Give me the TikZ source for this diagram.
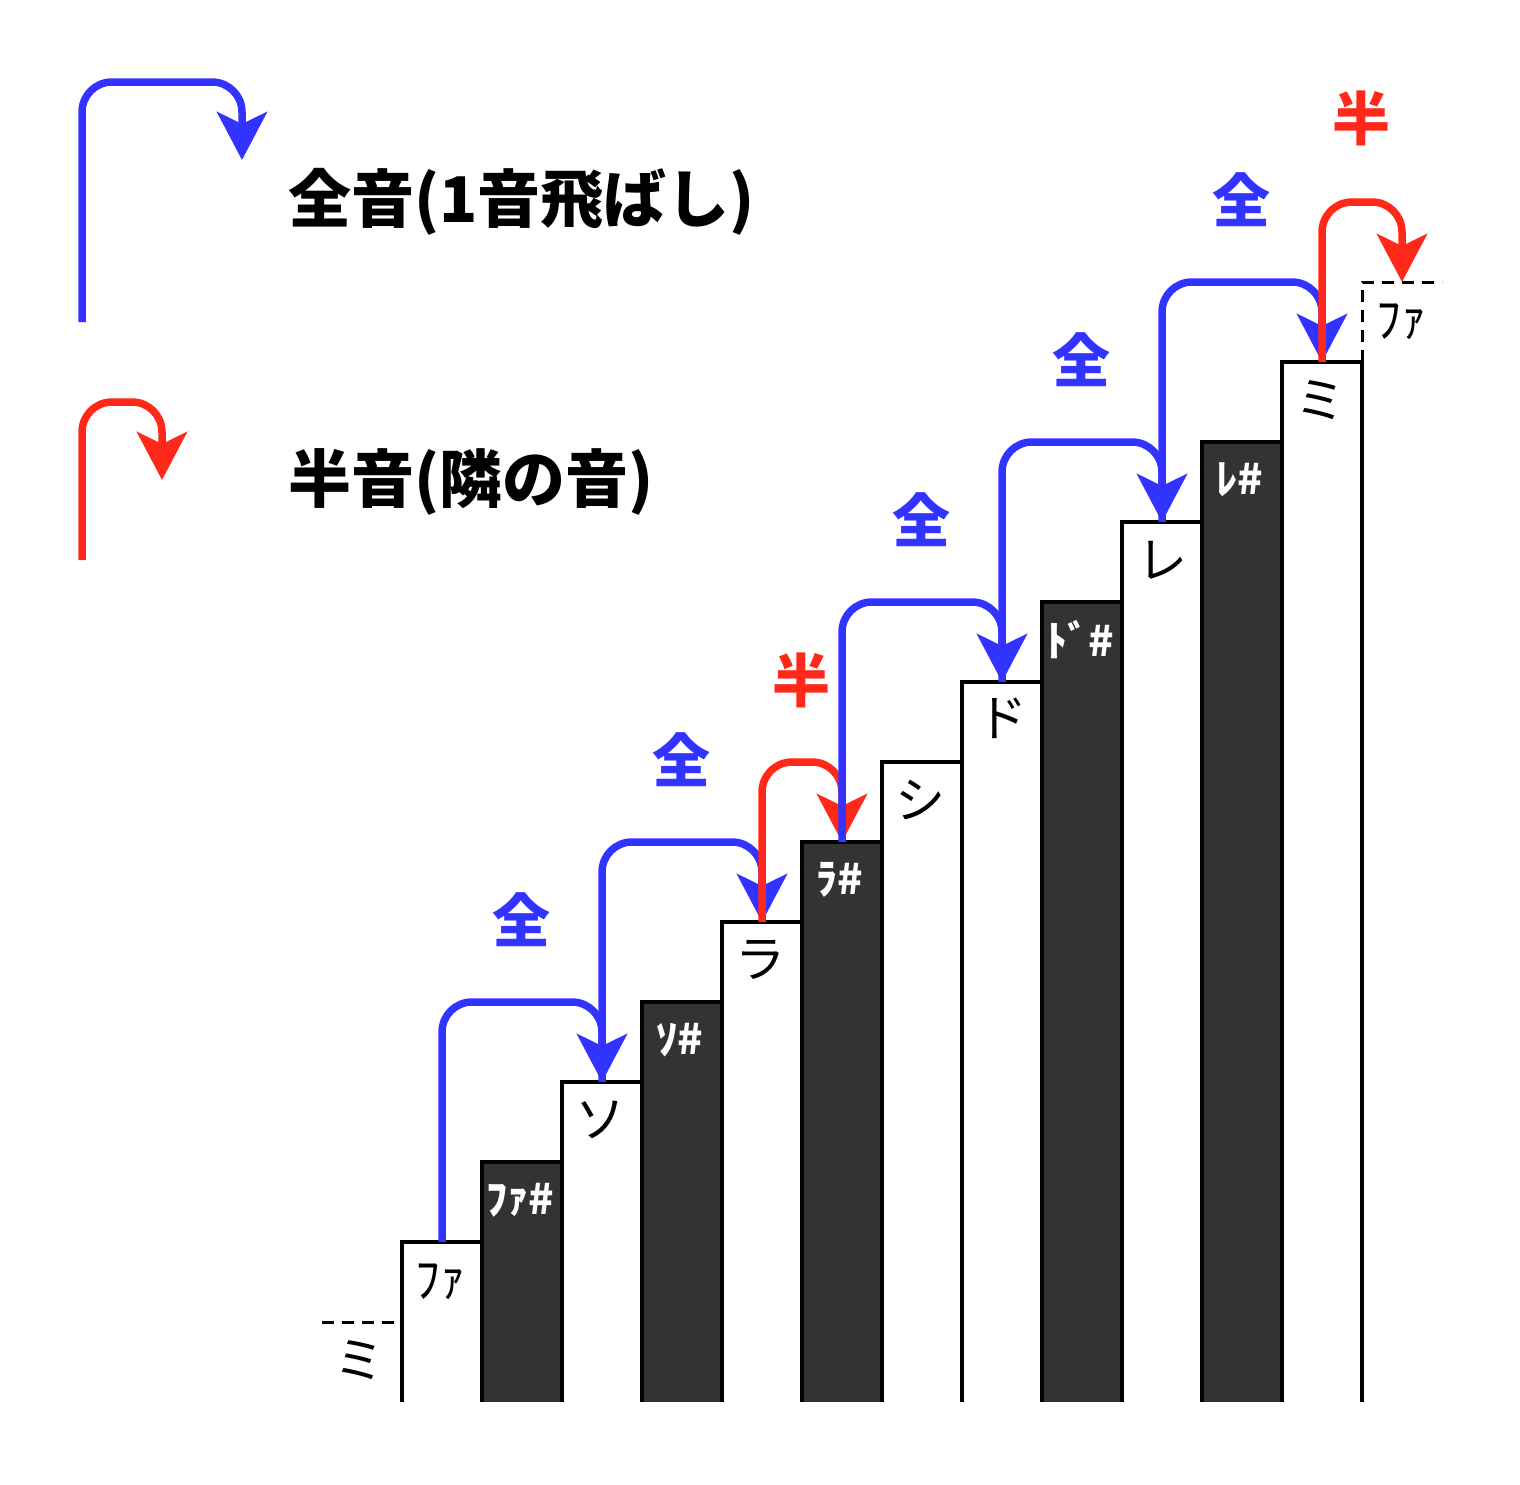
\documentclass[tikz,border=0pt]{standalone}
\usepackage{fontspec}
\setmainfont{Noto Sans CJK JP}
\usetikzlibrary{arrows.meta}
\definecolor{wblue}{RGB}{51,51,255}
\definecolor{hred}{RGB}{255,41,25}
\definecolor{bkey}{RGB}{51,51,51}
\begin{document}
\begin{tikzpicture}[x=1pt,y=-1pt,
 keyline/.style={line width=4pt, line join=miter},
 wkey/.style={keyline, fill=white},
 bkeyst/.style={keyline, fill=bkey},
 jump/.style={line width=7.5pt, rounded corners=30pt, -{Stealth[length=48pt,width=50pt,inset=12pt]}},
 whole/.style={jump, color=wblue},
 half/.style={jump, color=hred},
 wlab/.style={font=\fontsize{50}{50}\selectfont, text=black, inner sep=0pt},
 blab/.style={font=\fontsize{42}{42}\selectfont\bfseries, text=white, inner sep=0pt},
 steplab/.style={font=\fontsize{58}{58}\selectfont\bfseries, inner sep=0pt},
 legtext/.style={font=\fontsize{63}{63}\selectfont\bfseries, anchor=west, inner sep=0pt},
 dashline/.style={line width=3pt, dash pattern=on 12pt off 8pt}
]
\useasboundingbox (0,0) rectangle (1520,1484);
% keys
\foreach \i/\st in {0/wkey,1/bkeyst,2/wkey,3/bkeyst,4/wkey,5/bkeyst,6/wkey,7/wkey,8/bkeyst,9/wkey,10/bkeyst,11/wkey}{
  \draw[\st] ({402+80*\i},1402) -- ({402+80*\i},{1242-80*\i}) -- ({482+80*\i},{1242-80*\i}) -- ({482+80*\i},1402);
  \coordinate (k\i) at ({442+80*\i},{1242-80*\i});
}
\coordinate (k12) at (1402,282);
% dashed neighbours
\coordinate (dl0) at (322,1322);
\coordinate (dl1) at (402,1322);
\draw[dashline] (dl0) -- (dl1);
\coordinate (dr0) at (1362,362);
\coordinate (dr1) at (1362,282);
\coordinate (dr2) at (1442,282);
\draw[dashline] (dr0) -- (dr1) -- (dr2);
% key labels
\node[wlab] (n0) at (440,1282) {ﾌｧ};
\node[blab] (n1) at (520,1200) {ﾌｧ\#};
\node[wlab] (n2) at (600,1120) {ソ};
\node[blab] (n3) at (680,1040) {ｿ\#};
\node[wlab] (n4) at (760,960) {ラ};
\node[blab] (n5) at (840,880) {ﾗ\#};
\node[wlab] (n6) at (920,800) {シ};
\node[wlab] (n7) at (1002,718) {ド};
\node[blab] (n8) at (1080,640) {ﾄﾞ\#};
\node[wlab] (n9) at (1162,560) {レ};
\node[blab] (n10) at (1240,480) {ﾚ\#};
\node[wlab] (n11) at (1320,400) {ミ};
\node[wlab] (nlow) at (359,1360) {ミ};
\node[wlab] (nhigh) at (1401,322) {ﾌｧ};
% jumps
\draw[whole] (k0) -- ++(0,-240) -| (k2);
\draw[whole] (k2) -- ++(0,-240) -| (k4);
\draw[half] (k4) -- ++(0,-160) -| (k5);
\draw[whole] (k5) -- ++(0,-240) -| (k7);
\draw[whole] (k7) -- ++(0,-240) -| (k9);
\draw[whole] (k9) -- ++(0,-240) -| (k11);
\draw[half] (k11) -- ++(0,-160) -| (k12);
% step labels
\node[steplab, text=wblue] (s1) at (521,920) {全};
\node[steplab, text=wblue] (s2) at (681,760) {全};
\node[steplab, text=hred] (s3) at (801,680) {半};
\node[steplab, text=wblue] (s4) at (921,520) {全};
\node[steplab, text=wblue] (s5) at (1081,360) {全};
\node[steplab, text=wblue] (s6) at (1241,200) {全};
\node[steplab, text=hred] (s7) at (1361,118) {半};
% legend
\coordinate (lb0) at (82,322);
\coordinate (lb1) at (242,160);
\draw[whole] (lb0) -- ++(0,-240) -| (lb1);
\coordinate (lr0) at (82,560);
\coordinate (lr1) at (162,480);
\draw[half] (lr0) -- ++(0,-158) -| (lr1);
\node[legtext] (t1) at (288,202) {全音(1音飛ばし)};
\node[legtext] (t2) at (288,482) {半音(隣の音)};
\end{tikzpicture}
\end{document}
